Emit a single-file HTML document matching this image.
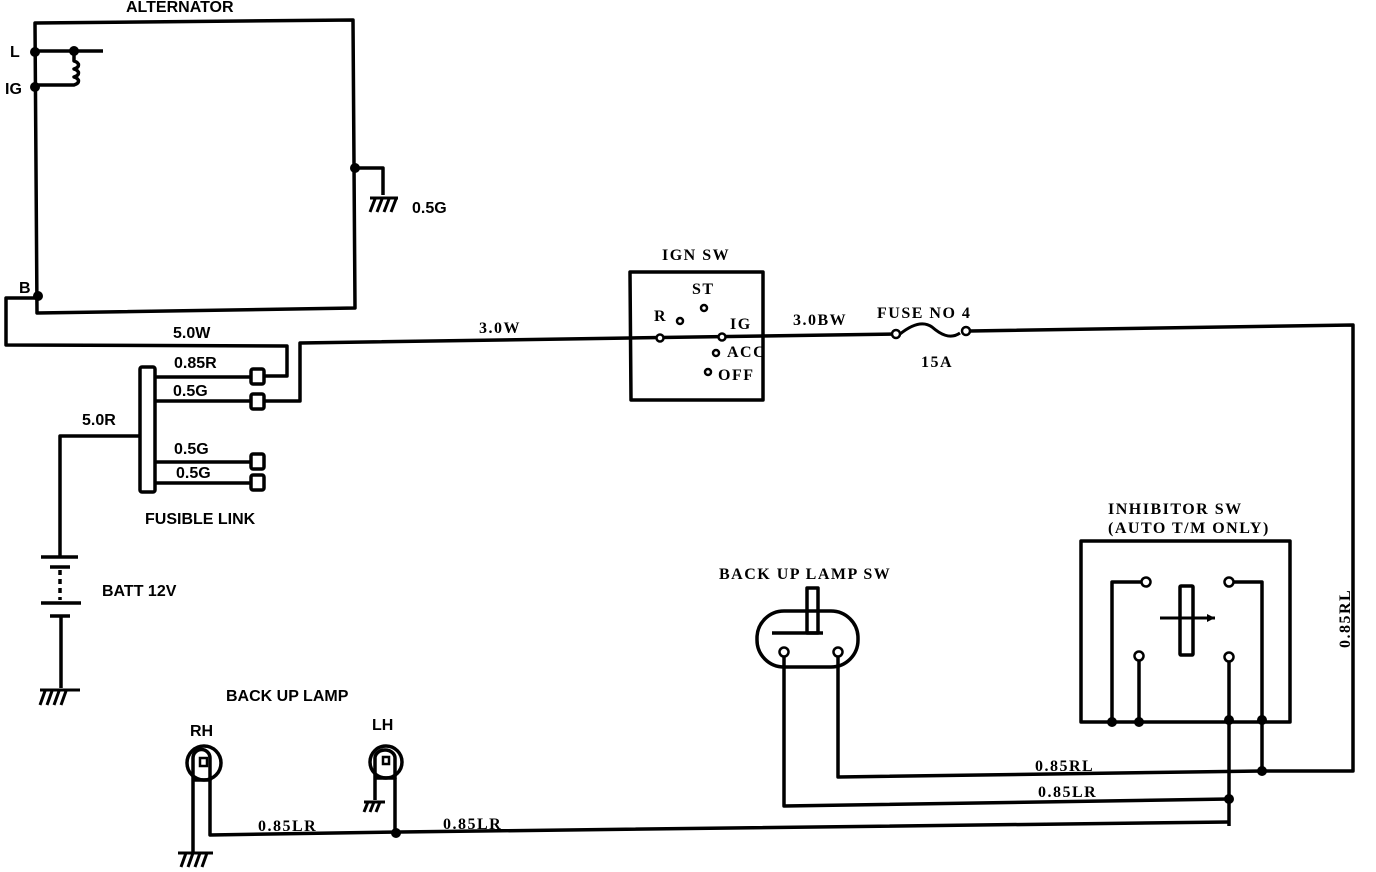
<!DOCTYPE html>
<html><head><meta charset="utf-8"><style>
html,body{margin:0;padding:0;background:#fff;width:1376px;height:872px;overflow:hidden}
.s{font-family:"Liberation Sans",sans-serif;font-weight:bold;font-size:16px;fill:#000}
.t{font-family:"Liberation Serif",serif;font-weight:bold;font-size:16px;fill:#000;letter-spacing:1.5px}
</style></head><body>
<svg width="1376" height="872" viewBox="0 0 1376 872" xmlns="http://www.w3.org/2000/svg">
<g fill="none" stroke="#000" stroke-width="3.5" stroke-linejoin="round">
<path d="M35 23 L353 20 L355 308 L37 313 Z"/>
<path d="M35 51 H103"/>
<path d="M74 51 v10 c6 2 6 6 0 8 c6 2 6 6 0 8 c6 2 6 6 0 8 v0 H35"/>
<path d="M355 168 H383 V195"/>
<path d="M370 198 H398 M370 212 l5 -13 M377 212 l5 -13 M384 212 l5 -13 M391 212 l5 -13" stroke-width="3"/>
<path d="M38 298 H6 V345 L287 346 V376 H265"/>
<path d="M265 401 H300 V343 L630 338"/>
<rect x="140" y="367" width="15" height="125" rx="2"/>
<path d="M155 377 H251 M155 401 H251 M155 462 H251 M155 483 H251"/>
<rect x="251" y="369" width="13" height="15" rx="2"/>
<rect x="251" y="394" width="13" height="15" rx="2"/>
<rect x="251" y="454" width="13" height="15" rx="2"/>
<rect x="251" y="475" width="13" height="15" rx="2"/>
<path d="M140 436 H60 V556"/>
<path d="M41 557 H78 M50 567 H70 M41 603 H81 M50 616 H70"/>
<path d="M60 570 V600" stroke-dasharray="5 4"/>
<path d="M61 616 V688"/>
<path d="M40 690 H80 M40 705 l5 -14 M47 705 l5 -14 M54 705 l5 -14 M61 705 l5 -14" stroke-width="3"/>
<path d="M630 272 H763 V400 H631 Z"/>
<path d="M630 338 L895 334"/>
<path d="M900 334 C915 322 925 322 932 327 C940 334 950 340 960 333" stroke-width="3"/>
<path d="M970 331 L1353 325 V771 L1262 771"/>
<path d="M1081 541 H1290 V722 H1081 Z"/>
<path d="M1142 582 H1112 V722 M1233 582 H1262 V771 M1139 660 V722 M1229 661 V826"/>
<rect x="1180" y="586" width="13" height="69" rx="1"/>
<path d="M1160 618 H1215" stroke-width="3"/>
<rect x="757" y="611" width="101" height="56" rx="27"/>
<rect x="807" y="588" width="11" height="45"/>
<path d="M772 633 H823"/>
<path d="M838 657 V777 L1262 771"/>
<path d="M784 657 V806 L1229 799"/>
<path d="M1229 822 L400 832 L210 835 V780"/>
<circle cx="204" cy="763" r="17"/>
<path d="M193 780 V758 a8 8 0 0 1 17 0 V780 H193"/>
<path d="M193 780 V852"/>
<path d="M178 853 H213 M181 867 l5 -14 M188 867 l5 -14 M195 867 l5 -14 M202 867 l5 -14" stroke-width="3"/>
<circle cx="386" cy="762" r="16"/>
<path d="M375 778 V758 a10 8 0 0 1 20 0 V778 H375"/>
<path d="M375 778 V800 M395 778 V833"/>
<path d="M364 802 H385 M364 812 l4 -10 M370 812 l4 -10 M376 812 l4 -10" stroke-width="3"/>
</g>
<g fill="#000">
<circle cx="35" cy="52" r="5"/><circle cx="74" cy="51" r="5"/><circle cx="35" cy="87" r="5"/>
<circle cx="38" cy="296" r="5"/><circle cx="355" cy="168" r="5"/>
<circle cx="1112" cy="722" r="5"/><circle cx="1139" cy="722" r="5"/><circle cx="1229" cy="720" r="5"/><circle cx="1262" cy="720" r="5"/>
<circle cx="1262" cy="771" r="5"/><circle cx="1229" cy="799" r="5"/><circle cx="396" cy="833" r="5"/>
</g>
<g fill="#fff" stroke="#000" stroke-width="2.5">
<circle cx="660" cy="338" r="3.5"/><circle cx="722" cy="337" r="3.5"/><circle cx="680" cy="321" r="3"/><circle cx="704" cy="308" r="3"/>
<circle cx="716" cy="353" r="3"/><circle cx="708" cy="372" r="3"/>
<circle cx="896" cy="334" r="4"/><circle cx="966" cy="331" r="4"/>
<circle cx="1146" cy="582" r="4.5"/><circle cx="1229" cy="582" r="4.5"/><circle cx="1139" cy="656" r="4.5"/><circle cx="1229" cy="657" r="4.5"/>
<circle cx="784" cy="652" r="4.5"/><circle cx="838" cy="652" r="4.5"/>
<rect x="200" y="758" width="7" height="8"/><rect x="383" y="757" width="6" height="7"/>
</g>
<polygon points="1215,618 1207,614 1207,622" fill="#000"/>
<text class="s" x="126" y="12">ALTERNATOR</text>
<text class="s" x="10" y="57">L</text>
<text class="s" x="5" y="94">IG</text>
<text class="s" x="412" y="213">0.5G</text>
<text class="s" x="19" y="293">B</text>
<text class="s" x="173" y="338">5.0W</text>
<text class="s" x="174" y="368">0.85R</text>
<text class="s" x="173" y="396">0.5G</text>
<text class="s" x="82" y="425">5.0R</text>
<text class="s" x="174" y="454">0.5G</text>
<text class="s" x="176" y="478">0.5G</text>
<text class="s" x="145" y="524">FUSIBLE LINK</text>
<text class="s" x="102" y="596">BATT 12V</text>
<text class="s" x="226" y="701">BACK UP LAMP</text>
<text class="s" x="190" y="736">RH</text>
<text class="s" x="372" y="730">LH</text>
<text class="t" x="479" y="333">3.0W</text>
<text class="t" x="662" y="260">IGN SW</text>
<text class="t" x="692" y="294">ST</text>
<text class="t" x="654" y="321">R</text>
<text class="t" x="730" y="329">IG</text>
<text class="t" x="727" y="357">ACC</text>
<text class="t" x="718" y="380">OFF</text>
<text class="t" x="793" y="325">3.0BW</text>
<text class="t" x="877" y="318">FUSE NO 4</text>
<text class="t" x="921" y="367">15A</text>
<text class="t" x="1108" y="514">INHIBITOR SW</text>
<text class="t" x="1108" y="533">(AUTO T/M ONLY)</text>
<text class="t" x="719" y="579">BACK UP LAMP SW</text>
<text class="t" x="1035" y="771">0.85RL</text>
<text class="t" x="1038" y="797">0.85LR</text>
<text class="t" x="258" y="831">0.85LR</text>
<text class="t" x="443" y="829">0.85LR</text>
<text class="t" transform="translate(1350,648) rotate(-90)">0.85RL</text>
</svg>
</body></html>
